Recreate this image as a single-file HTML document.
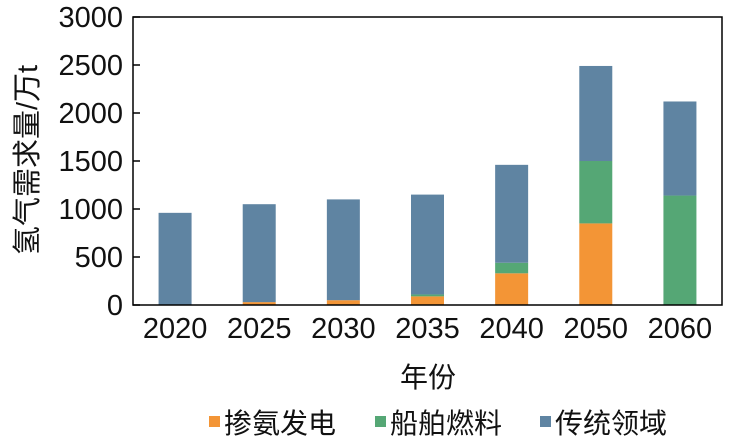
<!DOCTYPE html>
<html><head><meta charset="utf-8"><style>
body{margin:0;background:#fff;}
svg text{font-family:"Liberation Sans","Noto Sans CJK SC",sans-serif;fill:#111;}
</style></head><body>
<svg id="c" width="733" height="441">
<g id="bars"></g>
<rect x="133" y="17" width="589" height="288" fill="none" stroke="#000" stroke-width="1.5"/>
<g id="yt"></g>
<g id="xt"></g>
<text x="428" y="387" font-size="28" text-anchor="middle">年份</text>
<text transform="translate(37,160) rotate(-90)" font-size="29" text-anchor="middle">氢气需求量/万t</text>
<g>
<rect x="209" y="416" width="11" height="11" fill="#f39536"/>
<text x="224" y="433" font-size="28">掺氨发电</text>
<rect x="375" y="416" width="11" height="11" fill="#55a775"/>
<text x="390" y="433" font-size="28">船舶燃料</text>
<rect x="540" y="416" width="11" height="11" fill="#5f84a2"/>
<text x="555" y="433" font-size="28">传统领域</text>
</g>
</svg>
<script>
const categories=["2020","2025","2030","2035","2040","2050","2060"];
const ammonia=[0,30,50,90,330,850,0];
const ship=[0,0,0,20,110,650,1140];
const traditional=[960,1020,1050,1040,1020,990,980];
const yTicks=[0,500,1000,1500,2000,2500,3000];
const NS="http://www.w3.org/2000/svg";
const x0=133,bw=589/categories.length,y0=305,yMax=3000,h=288;
const y=v=>y0-v/yMax*h;
const xc=i=>x0+bw*(i+0.5);
const bars=document.getElementById('bars'),yt=document.getElementById('yt'),xt=document.getElementById('xt');
function mk(t,a,p){const e=document.createElementNS(NS,t);for(const k in a)e.setAttribute(k,a[k]);p.appendChild(e);return e;}
const series=[[ammonia,"#f39536","ammonia"],[ship,"#55a775","ship"],[traditional,"#5f84a2","traditional"]];
categories.forEach((c,i)=>{
  let base=0;
  series.forEach(([arr,col,nm])=>{
    const v=arr[i];
    if(v>0){
      const r=mk('rect',{x:xc(i)-16.5,y:y(base+v),width:33,height:y(base)-y(base+v),fill:col},bars);
      
      
    }
    base+=v;
  });
  const t=mk('text',{x:xc(i),y:338,'font-size':29,'text-anchor':'middle'},xt);
  t.textContent=c;
  
  
});
yTicks.forEach(v=>{
  const l=mk('line',{x1:x0,x2:x0+7,y1:y(v),y2:y(v),stroke:'#000','stroke-width':1.5},yt);
  
  
  const t=mk('text',{x:123,y:y(v)+10,'font-size':29,'text-anchor':'end'},yt);
  t.textContent=v;
  
  
});
</script>
</body></html>
